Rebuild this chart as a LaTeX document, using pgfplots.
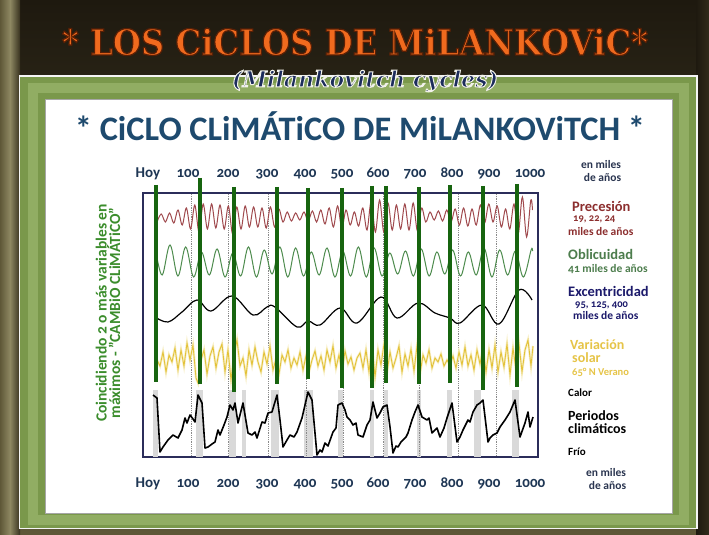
\documentclass[border=0pt]{standalone}
\usepackage{graphicx}
\usepackage{fontspec}
\setmainfont{Carlito}[Numbers=OldStyle]
\newfontfamily\serifbold{DejaVu Serif}
\usepackage{pgfplots}
\pgfplotsset{compat=1.18}

\definecolor{bgtop}{HTML}{1E190F}
\definecolor{bgbot}{HTML}{5E5737}
\definecolor{bgside}{HTML}{8E8862}
\definecolor{fgreen}{HTML}{7A984B}
\definecolor{fgreenL}{HTML}{A4C078}
\definecolor{titorg}{HTML}{F06A1E}
\definecolor{subnavy}{HTML}{1C2C5C}
\definecolor{innertit}{HTML}{1E4A6E}
\definecolor{lblgreen}{HTML}{3B8D2C}
\definecolor{ticknavy}{HTML}{1E3654}
\definecolor{boxcol}{HTML}{2B2D5A}
\definecolor{precol}{HTML}{A04A4E}
\definecolor{oblcol}{HTML}{4E8C4E}
\definecolor{solcol}{HTML}{E3C23A}
\definecolor{solhalo}{HTML}{F8F0C8}
\definecolor{barg}{HTML}{17640F}
\definecolor{bandgray}{HTML}{D9D9D9}
\definecolor{gridcol}{HTML}{8A8A8A}
\definecolor{hdred}{HTML}{8C2E2E}
\definecolor{hdgreen}{HTML}{4D7D4D}
\definecolor{hdnavy}{HTML}{1C1A6B}
\definecolor{hdyel}{HTML}{E6C447}
\definecolor{smnavy}{HTML}{2A3550}

\newcommand\titletext{\resizebox{586pt}{27pt}{\special{pdf:literal direct 0.35 0.12 0.02 RG 0.35 w 2 Tr}\serifbold\bfseries * LOS CiCLOS DE MiLANKOViC*\special{pdf:literal direct 0 Tr}}}
\newcommand\subtext{\resizebox{266pt}{!}{\special{pdf:literal direct 0.95 0.95 0.92 RG 0.45 w 2 Tr}\serifbold\bfseries\itshape (Milankovitch cycles)\special{pdf:literal direct 0 Tr}}}
\newcommand\sm{\fontsize{11.5}{11.5}\selectfont\bfseries}
\newcommand\xs{\fontsize{10.5}{10.5}\selectfont\bfseries}

\begin{document}
\begin{tikzpicture}[x=1pt,y=1pt]
\useasboundingbox (0,0) rectangle (709,535);
% outer background
\shade[top color=bgtop, bottom color=bgbot] (0,0) rectangle (709,535);
\shade[left color=bgbot, right color=bgtop!60!bgbot, middle color=bgside] (0,0) rectangle (20,535);
\shade[left color=bgtop, right color=bgtop!70!bgbot] (696,0) rectangle (709,535);
% green frame
\fill[white!92!gray] (18.5,5.5) rectangle (697.5,459.5);
\fill[fgreen] (20,7) rectangle (696,458);
\draw[fgreenL, line width=10pt, opacity=0.55] (32.5,14.5) rectangle (684,447);
% white panel
\fill[white] (45,22) rectangle (672,436);
\draw[gray!70, line width=0.6pt] (45,22) rectangle (672,436);

% main title
\node[anchor=base, text=titorg, inner sep=0] at (355,480) {\titletext};

% subtitle
\node[anchor=base, text=subnavy, inner sep=0] at (365,448) {\subtext};

% inner title
\node[anchor=base, text=innertit, inner sep=0] at (360,394)
  {\resizebox{570pt}{!}{\bfseries * CiCLO CLiMÁTiCO DE MiLANKOViTCH *}};

% rotated left label
\node[rotate=90, align=center, text=lblgreen, font=\fontsize{15.5}{13.5}\selectfont\bfseries] at (108,222)
  {Coincidiendo 2 o más variables en\\máximos - "CAMBiO CLiMÁTiCO"};

% right labels (one node per block)
\node[align=center, text=smnavy, font=\fontsize{11.5}{13}\selectfont\bfseries, inner sep=0] at (601,364)
  {en miles\\\hspace*{3pt}de años};
\node[anchor=north west, align=left, text=hdred, font=\fontsize{14.5}{10.5}\selectfont\bfseries, inner sep=0] at (568,334)
  {\hspace*{4pt}Precesión\\\hspace*{5pt}{\xs 19, 22, 24}\\[3pt]{\sm miles de años}};
\node[anchor=north west, align=left, text=hdgreen, font=\fontsize{14.5}{13}\selectfont\bfseries, inner sep=0] at (568,286)
  {Oblicuidad\\[0pt]{\sm 41 miles de años}};
\node[anchor=north west, align=left, text=hdnavy, font=\fontsize{14.5}{11.5}\selectfont\bfseries, inner sep=0] at (568,249)
  {Excentricidad\\\hspace*{7pt}{\xs 95, 125, 400}\\\hspace*{5pt}{\sm miles de años}};
\node[anchor=north west, align=left, text=hdyel, font=\fontsize{14}{13.5}\selectfont\bfseries, inner sep=0] at (570,196)
  {Variación\\\hspace*{2pt}solar\\[-1pt]\hspace*{2pt}{\xs 65° N Verano}};
\node[anchor=west, text=black, font=\fontsize{11}{11}\selectfont\bfseries, inner sep=0] at (568,142) {Calor};
\node[anchor=north west, align=left, text=black, font=\fontsize{14}{13.5}\selectfont\bfseries, inner sep=0] at (568,125)
  {Periodos\\climáticos};
\node[anchor=west, text=black, font=\fontsize{11}{11}\selectfont\bfseries, inner sep=0] at (568,83) {Frío};
\node[align=center, text=smnavy, font=\fontsize{11.5}{13}\selectfont\bfseries, inner sep=0] at (606,56)
  {en miles\\\hspace*{3pt}de años};

% ---------- main axis ----------
\begin{axis}[
  at={(143pt,78pt)}, anchor=south west, scale only axis,
  width=395pt, height=264pt,
  xmin=143, xmax=538, ymin=193, ymax=457, y dir=reverse,
  clip=false,
  axis line style={draw=boxcol, line width=1.4pt},
  ytick=\empty,
  xtick={148,188,228,267,305,342,378,415,452,489,530},
  xticklabels={Hoy,100,200,300,400,500,600,700,800,900,1000},
  major tick length=0pt,
  xticklabel style={anchor=base, yshift=-30pt, font=\fontsize{15}{15}\selectfont\bfseries, text=ticknavy},
]
% grey climate bands
\addplot[fill=bandgray, draw=none, forget plot] coordinates {(153,390) (158,390) (158,457) (153,457)} --cycle;
\addplot[fill=bandgray, draw=none, forget plot] coordinates {(196,390) (203,390) (203,457) (196,457)} --cycle;
\addplot[fill=bandgray, draw=none, forget plot] coordinates {(229,390) (236,390) (236,457) (229,457)} --cycle;
\addplot[fill=bandgray, draw=none, forget plot] coordinates {(242,390) (246,390) (246,457) (242,457)} --cycle;
\addplot[fill=bandgray, draw=none, forget plot] coordinates {(271,390) (279,390) (279,457) (271,457)} --cycle;
\addplot[fill=bandgray, draw=none, forget plot] coordinates {(304,390) (313,390) (313,457) (304,457)} --cycle;
\addplot[fill=bandgray, draw=none, forget plot] coordinates {(338,390) (343,390) (343,457) (338,457)} --cycle;
\addplot[fill=bandgray, draw=none, forget plot] coordinates {(370,390) (374,390) (374,457) (370,457)} --cycle;
\addplot[fill=bandgray, draw=none, forget plot] coordinates {(384,390) (388,390) (388,457) (384,457)} --cycle;
\addplot[fill=bandgray, draw=none, forget plot] coordinates {(417,390) (421,390) (421,457) (417,457)} --cycle;
\addplot[fill=bandgray, draw=none, forget plot] coordinates {(447,390) (452,390) (452,457) (447,457)} --cycle;
\addplot[fill=bandgray, draw=none, forget plot] coordinates {(474,390) (481,390) (481,457) (474,457)} --cycle;
\addplot[fill=bandgray, draw=none, forget plot] coordinates {(512,390) (519,390) (519,457) (512,457)} --cycle;
% dotted reference lines
\pgfplotsinvokeforeach{191,228,268,306,343,383,419,458,496}{
  \addplot[gridcol, densely dotted, line width=0.8pt, forget plot] coordinates {(#1,194) (#1,456)};
}
% precession
\addplot[precol, line width=1pt, smooth, tension=0.55] coordinates {
(157.0,222) (161.2,214) (165.4,222) (169.6,213) (173.8,223) (178.0,210) (182.2,225) (186.4,208)
(190.6,229) (194.8,205) (199.0,232) (203.2,204) (207.4,229) (211.6,204) (215.8,228) (220.0,205)
(224.2,229) (228.4,206) (232.6,234) (236.8,207) (241.0,229) (245.2,206) (249.4,227) (253.6,207)
(257.8,227) (262.0,208) (266.2,228) (270.4,207) (274.6,227) (278.8,209) (283.0,222) (287.2,212)
(291.4,221) (295.6,213) (299.8,220) (304.0,212) (308.2,221) (312.4,211) (316.6,222) (320.8,210)
(325.0,224) (329.2,208) (333.4,227) (337.6,206) (341.8,228) (346.0,210) (350.2,225) (354.4,212)
(358.6,226) (362.8,208) (367.0,230) (371.2,201) (375.4,232) (379.6,200) (383.8,232) (388.0,203)
(392.2,230) (396.4,205) (400.6,229) (404.8,204) (409.0,230) (413.2,203) (417.4,231) (421.6,208)
(425.8,222) (430.0,212) (434.2,220) (438.4,211) (442.6,221) (446.8,210) (451.0,222) (455.2,209)
(459.4,225) (463.6,208) (467.8,226) (472.0,209) (476.2,225) (480.4,205) (484.6,223) (488.8,204)
(493.0,222) (497.2,206) (501.4,227) (505.6,209) (509.8,229) (514.0,204) (518.2,234) (522.4,197)
(526.6,237) (530.8,200) (532.5,210)
};
% obliquity
\addplot[oblcol, line width=1pt, smooth, tension=0.6] coordinates {
(156.0,252) (162.2,275) (170.0,245) (177.9,276) (185.7,247) (193.6,277) (201.4,252) (209.3,275)
(217.1,249) (225.0,277) (232.8,253) (240.7,276) (248.5,247) (256.4,277) (264.2,250) (272.1,274)
(279.9,247) (287.8,277) (295.6,248) (303.5,276) (311.3,252) (319.2,275) (327.0,248) (334.9,277)
(342.7,251) (350.6,276) (358.4,247) (366.3,277) (374.1,248) (382.0,276) (389.8,253) (397.7,274)
(405.5,251) (413.4,276) (421.2,249) (429.1,276) (436.9,252) (444.8,274) (452.6,250) (460.5,276)
(468.3,252) (476.2,275) (484.0,248) (491.9,277) (499.7,250) (507.6,275) (515.4,251) (523.3,277)
(531.1,250) (532.5,251)
};
% eccentricity
\addplot[black, line width=1.2pt, smooth, tension=0.6] coordinates {
(155,317) (168,322) (182,312) (197,300) (211,311) (232,296) (253,315) (267,307) (275,307)
(297,327) (308,321) (320,325) (340,308) (357,323) (381,297) (397,318) (418,303) (435,313)
(450,318) (460,323) (482,305) (499,324) (519,290) (532,300)
};
% solar variation
\addplot[solhalo, line width=2.4pt, forget plot] coordinates {
(157,360) (160,366) (163,352) (166,372) (169,355) (172,362) (175,348) (178,370) (181,350) (184,366)
(187,343) (190,360) (193,345) (196,378) (198,383) (201,360) (204,350) (207,374) (210,356) (213,347)
(216,368) (219,352) (222,344) (225,372) (228,350) (231,380) (234,355) (237,340) (240,366) (243,358)
(246,376) (249,350) (252,365) (255,347) (258,362) (261,372) (264,352) (267,364) (270,346) (273,370)
(276,359) (279,374) (282,355) (285,362) (288,350) (291,368) (294,358) (297,365) (300,352) (303,370)
(306,356) (309,372) (312,360) (315,351) (318,366) (321,356) (324,370) (327,350) (330,362) (333,346)
(336,368) (339,355) (342,372) (345,351) (348,364) (351,357) (354,370) (357,358) (360,353) (363,368)
(366,350) (369,372) (372,345) (375,377) (378,350) (381,365) (384,344) (387,373) (390,352) (393,368)
(396,358) (399,346) (402,372) (405,354) (408,366) (411,349) (414,371) (417,346) (420,374) (423,355)
(426,363) (429,350) (432,368) (435,358) (438,362) (441,354) (444,366) (447,360) (450,365) (453,356)
(456,368) (459,352) (462,365) (465,347) (468,366) (471,355) (474,370) (477,350) (480,364) (483,348)
(486,372) (489,350) (492,368) (495,345) (498,372) (501,352) (504,367) (507,344) (510,375) (513,348)
(516,370) (519,344) (522,372) (525,350) (528,340) (531,366) (533,346)
};
\addplot[solcol, line width=0.9pt] coordinates {
(157,360) (160,366) (163,352) (166,372) (169,355) (172,362) (175,348) (178,370) (181,350) (184,366)
(187,343) (190,360) (193,345) (196,378) (198,383) (201,360) (204,350) (207,374) (210,356) (213,347)
(216,368) (219,352) (222,344) (225,372) (228,350) (231,380) (234,355) (237,340) (240,366) (243,358)
(246,376) (249,350) (252,365) (255,347) (258,362) (261,372) (264,352) (267,364) (270,346) (273,370)
(276,359) (279,374) (282,355) (285,362) (288,350) (291,368) (294,358) (297,365) (300,352) (303,370)
(306,356) (309,372) (312,360) (315,351) (318,366) (321,356) (324,370) (327,350) (330,362) (333,346)
(336,368) (339,355) (342,372) (345,351) (348,364) (351,357) (354,370) (357,358) (360,353) (363,368)
(366,350) (369,372) (372,345) (375,377) (378,350) (381,365) (384,344) (387,373) (390,352) (393,368)
(396,358) (399,346) (402,372) (405,354) (408,366) (411,349) (414,371) (417,346) (420,374) (423,355)
(426,363) (429,350) (432,368) (435,358) (438,362) (441,354) (444,366) (447,360) (450,365) (453,356)
(456,368) (459,352) (462,365) (465,347) (468,366) (471,355) (474,370) (477,350) (480,364) (483,348)
(486,372) (489,350) (492,368) (495,345) (498,372) (501,352) (504,367) (507,344) (510,375) (513,348)
(516,370) (519,344) (522,372) (525,350) (528,340) (531,366) (533,346)
};
% climatic periods
\addplot[black, line width=1.6pt, line join=round] coordinates {
(153,395) (157,398) (160,452) (163,447) (168,440) (173,435) (178,438) (182,430) (185,418) (187,423)
(190,415) (193,419) (195,422) (198,395) (202,403) (205,448) (208,447) (212,444) (215,442) (218,430)
(220,435) (224,425) (227,417) (230,405) (233,410) (235,403) (238,423) (243,403) (248,433) (252,435)
(255,432) (257,438) (262,422) (265,423) (268,413) (272,412) (277,395) (280,420) (283,447) (287,440)
(290,435) (294,437) (297,432) (302,418) (305,405) (308,392) (312,400) (317,455) (320,450) (322,452)
(325,443) (328,446) (333,432) (336,428) (338,405) (342,403) (345,410) (347,417) (350,420) (353,425)
(356,423) (358,435) (363,437) (367,425) (370,420) (373,402) (377,418) (380,413) (383,407) (387,405)
(390,427) (393,453) (396,446) (398,447) (401,442) (403,440) (406,437) (408,433) (412,420) (415,412)
(418,405) (422,417) (427,420) (429,418) (432,433) (437,428) (440,437) (444,428) (447,418) (452,403)
(457,442) (460,437) (463,430) (468,420) (470,422) (473,412) (477,405) (480,403) (483,400) (488,442)
(490,438) (493,435) (497,433) (500,427) (505,420) (510,412) (515,400) (520,437) (525,423) (528,412)
(530,427) (533,417)
};
% green coincidence bars
\addplot[barg, line width=4.5pt, forget plot] coordinates {(156,185) (156,382)};
\addplot[barg, line width=4.5pt, forget plot] coordinates {(200,178) (200,384)};
\addplot[barg, line width=4.5pt, forget plot] coordinates {(234,187) (234,392)};
\addplot[barg, line width=4.5pt, forget plot] coordinates {(277,187) (277,384)};
\addplot[barg, line width=4.5pt, forget plot] coordinates {(308,188) (308,379)};
\addplot[barg, line width=4.5pt, forget plot] coordinates {(342,188) (342,388)};
\addplot[barg, line width=4.5pt, forget plot] coordinates {(372,186) (372,388)};
\addplot[barg, line width=4.5pt, forget plot] coordinates {(386,186) (386,383)};
\addplot[barg, line width=4.5pt, forget plot] coordinates {(419,187) (419,384)};
\addplot[barg, line width=4.5pt, forget plot] coordinates {(450,185) (450,383)};
\addplot[barg, line width=4.5pt, forget plot] coordinates {(483,186) (483,390)};
\addplot[barg, line width=4.5pt, forget plot] coordinates {(517,184) (517,387)};
\end{axis}

% ---------- top tick labels ----------
\begin{axis}[
  at={(143pt,78pt)}, anchor=south west, scale only axis,
  width=395pt, height=264pt,
  xmin=143, xmax=538, ymin=193, ymax=457, y dir=reverse,
  axis line style={draw=none},
  ytick=\empty,
  xtick={148,188,228,267,305,342,378,415,452,489,530},
  xticklabels={Hoy,100,200,300,400,500,600,700,800,900,1000},
  xticklabel pos=upper,
  major tick length=0pt,
  xticklabel style={anchor=base, yshift=15pt, font=\fontsize{15}{15}\selectfont\bfseries, text=ticknavy},
]
\end{axis}
\end{tikzpicture}
\end{document}
